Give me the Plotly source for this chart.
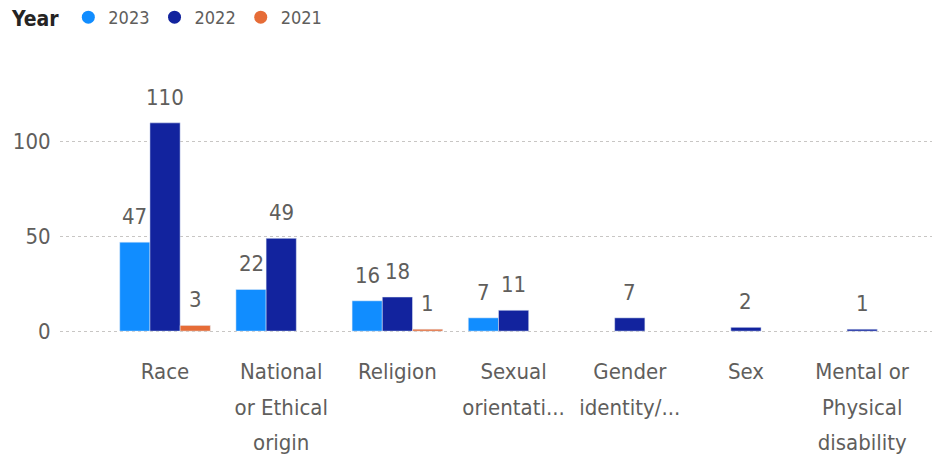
import plotly.graph_objects as go

categories = ["Race", "National or Ethical origin", "Religion", "Sexual orientation",
              "Gender identity/expression", "Sex", "Mental or Physical disability"]
tick_labels = ["Race", "National<br>or Ethical<br>origin", "Religion", "Sexual<br>orientati...",
               "Gender<br>identity/...", "Sex", "Mental or<br>Physical<br>disability"]
years = ["2023", "2022", "2021"]
values_2023 = [47, 22, 16, 7, None, None, None]
values_2022 = [110, 49, 18, 11, 7, 2, 1]
values_2021 = [3, None, 1, None, None, None, None]
colors = {"2023": "#118DFF", "2022": "#12239E", "2021": "#E66C37"}
series = {"2023": values_2023, "2022": values_2022, "2021": values_2021}

FONT = "Liberation Sans Narrow, DejaVu Sans Condensed, sans-serif"
GRAY = "#605E5C"

W, H = 932, 447
ML, MR, MT, MB = 52, 5, 77, 122
XRANGE = [-0.904, 6.627]
BARGAP = 0.22
PLOT_H = H - MT - MB

fig = go.Figure()
for y in years:
    fig.add_trace(go.Bar(
        x=categories, y=series[y], name=y, marker_color=colors[y],
        showlegend=False, hoverinfo="skip",
    ))
for y in years:
    fig.add_trace(go.Scatter(
        x=[None], y=[None], mode="markers", name=y,
        marker=dict(symbol="circle", size=13, color=colors[y]),
    ))

# data labels placed above each bar
px_per_cat = (W - ML - MR) / (XRANGE[1] - XRANGE[0])
bar_px = px_per_cat * (1 - BARGAP) / len(years)
for k, y in enumerate(years):
    for cat, v in zip(categories, series[y]):
        if v is None:
            continue
        fig.add_annotation(
            x=cat, y=v, text=str(v), showarrow=False,
            xshift=(k - 1) * bar_px, yshift=11, yanchor="bottom",
            font=dict(family=FONT, size=22, color=GRAY),
        )

wrapped = ["<br>".join(f"<span style='font-size:22px'>{part}</span>" for part in t.split("<br>"))
           for t in tick_labels]

fig.update_layout(
    width=W, height=H,
    margin=dict(l=ML, r=MR, t=MT, b=MB, autoexpand=False),
    paper_bgcolor="white", plot_bgcolor="white",
    barmode="group", bargap=BARGAP, bargroupgap=0,
    font=dict(family=FONT, size=22, color=GRAY),
    legend=dict(
        orientation="h", x=-(ML - 2) / (W - ML - MR), y=1 + (MT + 9) / PLOT_H,
        xanchor="left", yanchor="top",
        title=dict(text="<b>Year</b>", font=dict(family=FONT, size=21, color="#252423")),
        font=dict(family=FONT, size=18, color=GRAY),
        itemwidth=30, tracegroupgap=0,
    ),
    xaxis=dict(
        range=XRANGE, showgrid=False, showline=False, zeroline=False, automargin=False,
        tickmode="array", tickvals=categories, ticktext=wrapped,
        ticks="outside", ticklen=13, tickcolor="rgba(0,0,0,0)",
        tickfont=dict(family=FONT, size=27, color=GRAY),
    ),
    yaxis=dict(
        range=[-1, 130], tickvals=[0, 50, 100], showgrid=True, automargin=False,
        gridcolor="#C8C6C4", griddash="dot", gridwidth=1,
        zeroline=False, showline=False,
        ticks="outside", ticklen=4, tickcolor="rgba(0,0,0,0)",
        tickfont=dict(family=FONT, size=22, color=GRAY),
    ),
)

fig.write_html("out.html")
